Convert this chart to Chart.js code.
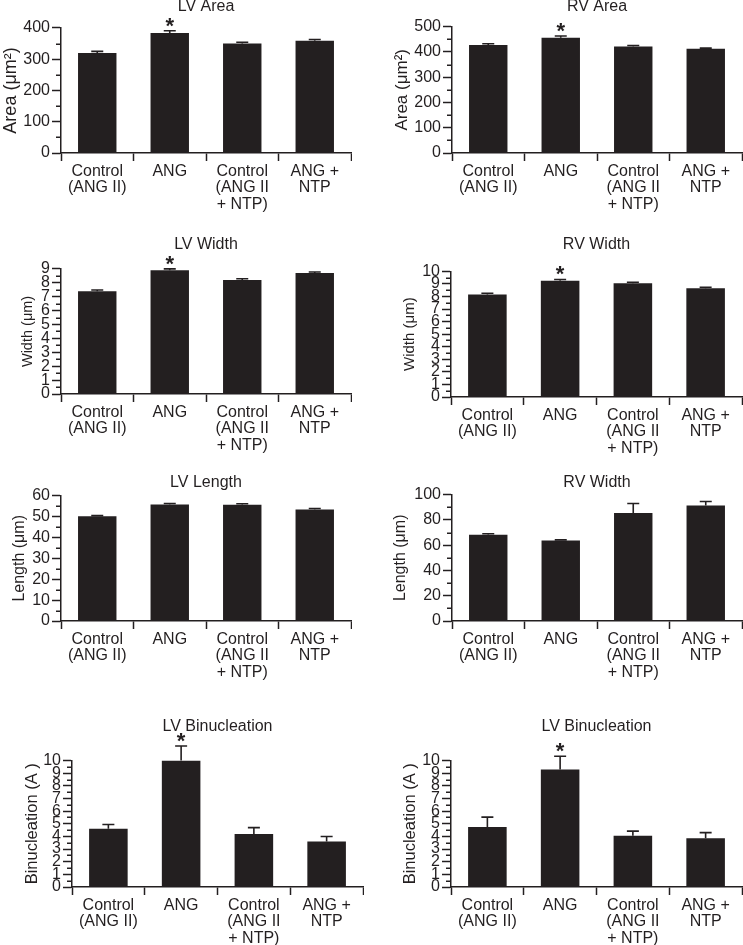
<!DOCTYPE html>
<html><head><meta charset="utf-8">
<script src="https://cdn.jsdelivr.net/npm/chart.js@4"></script>
<style>
html,body{margin:0;padding:0;background:#fff;}
body{width:743px;height:945px;position:relative;overflow:hidden;}
canvas{position:absolute;}
</style></head><body>
<script>
// ---------- DATA ----------
const categories = [['Control', '(ANG II)'], ['ANG'], ['Control', '(ANG II', '+ NTP)'], ['ANG +', 'NTP']];

const panelTitles = ['LV Area', 'RV Area', 'LV Width', 'RV Width', 'LV Length', 'RV Width', 'LV Binucleation', 'LV Binucleation'];
const yAxisTitles = ['Area (μm²)', 'Area (μm²)', 'Width (μm)', 'Width (μm)', 'Length (μm)', 'Length (μm)', 'Binucleation (A )', 'Binucleation (A )'];

const lvAreaMean = [320, 384, 350, 359];
const lvAreaErr = [5, 7, 4, 4];
const rvAreaMean = [427, 456, 421, 412];
const rvAreaErr = [5, 7, 4, 3];
const lvWidthMean = [7.4, 8.9, 8.2, 8.7];
const lvWidthErr = [0.08, 0.1, 0.09, 0.08];
const rvWidthMean = [8.15, 9.25, 9.05, 8.65];
const rvWidthErr = [0.1, 0.1, 0.08, 0.08];
const lvLengthMean = [50.1, 55.7, 55.6, 53.3];
const lvLengthErr = [0.3, 0.5, 0.5, 0.5];
const rvLengthMean = [68.2, 63.7, 85.5, 91.3];
const rvLengthErr = [0.8, 0.5, 7.4, 3.2];
const lvBinucAMean = [4.6, 10.0, 4.2, 3.6];
const lvBinucAErr = [0.35, 1.15, 0.5, 0.4];
const lvBinucBMean = [4.75, 9.3, 4.05, 3.85];
const lvBinucBErr = [0.78, 1.05, 0.37, 0.45];

const yMax = [400, 500, 9, 10, 60, 100, 10, 10];
const yStep = [100, 100, 1, 1, 10, 20, 1, 1];
const yMinorStep = [50, 50, 0.5, 0.5, 5, 10, 0.5, 0.5];
const significantIndex = [1, 1, 1, 1, null, null, 1, 1];

const means = [lvAreaMean, rvAreaMean, lvWidthMean, rvWidthMean, lvLengthMean, rvLengthMean, lvBinucAMean, lvBinucBMean];
const errs = [lvAreaErr, rvAreaErr, lvWidthErr, rvWidthErr, lvLengthErr, rvLengthErr, lvBinucAErr, lvBinucBErr];

// ---------- LAYOUT (page positions) ----------
// cl: canvas left, pl/pr: plot left/right, pt/pb: plot top/bottom, ty: title centre y, yx: y-title centre x, yf: y-title font size
const boxes = [
  {cl: 0,   pl: 61,  pr: 351, pt: 28,    pb: 153,   ty: 6.7,   yx: 10.5, yf: 18},
  {cl: 372, pl: 452, pr: 742, pt: 26.7,  pb: 153,   ty: 6.7,   yx: 402,  yf: 17},
  {cl: 0,   pl: 61,  pr: 351, pt: 269.3, pb: 394,   ty: 245,   yx: 28,   yf: 14.5},
  {cl: 372, pl: 451, pr: 742, pt: 271.7, pb: 397.3, ty: 245,   yx: 410,  yf: 15},
  {cl: 0,   pl: 61,  pr: 351, pt: 496,   pb: 621.7, ty: 483,   yx: 20,   yf: 16},
  {cl: 372, pl: 452, pr: 742, pt: 495,   pb: 621.7, ty: 483,   yx: 401,  yf: 16},
  {cl: 0,   pl: 72,  pr: 363, pt: 760.7, pb: 886.7, ty: 726.7, yx: 32.5, yf: 16.5},
  {cl: 372, pl: 451, pr: 742, pt: 760.7, pb: 886.7, ty: 726.7, yx: 410,  yf: 16.5}
];

const INK = '#231f20';
Chart.defaults.font.family = "'Liberation Sans', Arial, Helvetica, sans-serif";
Chart.defaults.color = INK;

const FONT = 16, LH = 1.2;
const X_AXIS_H = 66;
const MAJOR_TICK = 9, MINOR_TICK = 5, X_TICK = 8;
const CAP = 12;

function makeOverlay(i) {
  return {
    id: 'overlay' + i,
    afterDatasetsDraw(chart) {
      const ctx = chart.ctx, y = chart.scales.y;
      const meta = chart.getDatasetMeta(0);
      const m = means[i], e = errs[i];
      ctx.save();
      ctx.strokeStyle = INK;
      ctx.lineWidth = 1.6;
      ctx.lineCap = 'butt';
      meta.data.forEach((bar, k) => {
        const top = y.getPixelForValue(m[k] + e[k]);
        const base = y.getPixelForValue(m[k]);
        ctx.beginPath();
        ctx.moveTo(bar.x, base);
        ctx.lineTo(bar.x, top);
        ctx.moveTo(bar.x - CAP / 2, top);
        ctx.lineTo(bar.x + CAP / 2, top);
        ctx.stroke();
      });
      const s = significantIndex[i];
      if (s !== null) {
        const bar = meta.data[s];
        const top = y.getPixelForValue(m[s] + e[s]);
        ctx.fillStyle = INK;
        ctx.font = "bold 22px 'Liberation Sans', Arial, sans-serif";
        ctx.textAlign = 'center';
        ctx.textBaseline = 'alphabetic';
        ctx.fillText('*', bar.x, top + 2);
      }
      // minor ticks
      const step = yStep[i], minor = yMinorStep[i];
      const n = Math.round(yMax[i] / minor);
      ctx.lineWidth = 1.5;
      for (let k = 0; k <= n; k++) {
        const v = k * minor;
        const r = v / step;
        if (Math.abs(r - Math.round(r)) < 1e-6) continue;
        const py = Math.round(y.getPixelForValue(v)) + 0.25;
        ctx.beginPath();
        ctx.moveTo(y.right - MINOR_TICK, py);
        ctx.lineTo(y.right, py);
        ctx.stroke();
      }
      ctx.restore();
    }
  };
}

boxes.forEach((b, i) => {
  const cv = document.createElement('canvas');
  const top = b.ty - FONT * LH / 2;
  const W = b.pr + 1 - b.cl;
  const H = b.pb - top + X_AXIS_H;
  cv.width = Math.round(W);
  cv.height = Math.round(H);
  cv.style.left = b.cl + 'px';
  cv.style.top = top + 'px';
  cv.style.width = Math.round(W) + 'px';
  cv.style.height = Math.round(H) + 'px';
  document.body.appendChild(cv);

  const yAxisW = b.pl - b.cl;
  const titleBottom = b.pt - b.ty - FONT * LH / 2;
  const yTitlePad = Math.max(0, b.yx - b.cl - b.yf * LH / 2);

  new Chart(cv, {
    type: 'bar',
    data: {
      labels: categories,
      datasets: [{
        data: means[i],
        backgroundColor: INK,
        borderWidth: 0,
        categoryPercentage: 1,
        barPercentage: 0.53
      }]
    },
    options: {
      responsive: false,
      animation: false,
      layout: {padding: {top: 0, left: 0, right: 1, bottom: 0}},
      plugins: {
        legend: {display: false},
        tooltip: {enabled: false},
        title: {
          display: true,
          text: panelTitles[i],
          fullSize: false,
          font: {size: FONT, weight: 'normal', lineHeight: LH},
          color: INK,
          padding: {top: 0, bottom: titleBottom}
        }
      },
      scales: {
        x: {
          type: 'category',
          offset: true,
          grid: {display: true, drawOnChartArea: false, offset: true, tickLength: X_TICK, tickWidth: 1.5, tickColor: INK},
          border: {display: true, color: INK, width: 1.5},
          ticks: {autoSkip: false, maxRotation: 0, minRotation: 0, padding: 2, color: INK,
                  font: {size: FONT, lineHeight: 1.04}},
          afterFit(scale) { scale.height = X_AXIS_H; }
        },
        y: {
          min: 0,
          max: yMax[i],
          grid: {display: true, drawOnChartArea: false, tickLength: MAJOR_TICK, tickWidth: 1.5, tickColor: INK},
          border: {display: true, color: INK, width: 1.5},
          ticks: {stepSize: yStep[i], autoSkip: false, padding: 2, color: INK,
                  font: {size: FONT, lineHeight: 1}},
          title: {display: true, text: yAxisTitles[i], color: INK,
                  font: {size: b.yf, lineHeight: LH}, padding: {top: yTitlePad, bottom: 0}},
          afterFit(scale) { scale.width = yAxisW; }
        }
      }
    },
    plugins: [makeOverlay(i)]
  });
});
</script>
</body></html>
